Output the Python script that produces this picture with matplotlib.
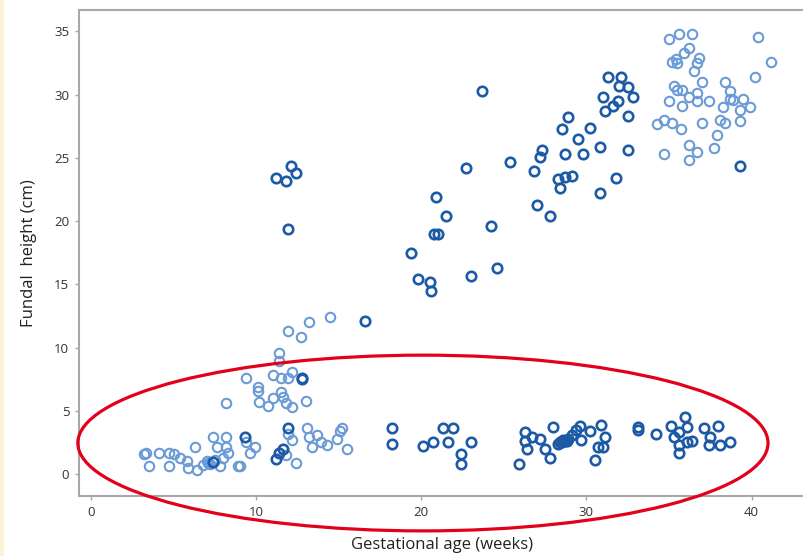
import matplotlib
matplotlib.use("Agg")
import matplotlib.pyplot as plt
from matplotlib.patches import Ellipse, Rectangle

# ---- data (gestational age in weeks, fundal height in cm) ----
dark_x = [11.2, 11.8, 12.1, 12.4, 11.9,
          23.7, 31.3, 32.1, 32.0, 32.5, 31.0, 32.8, 31.9, 31.6, 31.1, 32.5, 28.9, 28.5, 30.2, 29.5,
          27.3, 27.2, 28.7, 29.8, 30.8, 32.5, 25.4, 22.7, 26.8, 28.3, 28.7, 29.1, 28.4, 31.8, 30.8,
          27.0, 27.8, 20.9, 21.5, 20.8, 21.0, 24.2, 19.4, 19.8, 20.5, 20.6, 23.0, 24.6, 39.3, 16.6,
          18.2, 18.2, 20.1, 20.7, 21.3, 21.9, 21.6, 23.0, 22.4, 22.4, 26.3, 26.3, 26.7, 27.2, 26.4,
          27.5, 27.8, 25.9, 28.0, 28.5, 28.7, 28.9, 29.1, 29.4, 29.6, 29.7, 30.2, 30.5, 30.7, 30.9,
          31.1, 28.3, 28.6, 28.4, 28.8, 31.0,
          33.1, 33.1, 34.2, 35.1, 35.3, 35.6, 36.0, 36.1, 35.6, 35.6, 36.1, 36.4, 37.1, 37.5, 37.4,
          38.0, 38.1, 38.7,
          11.9, 11.6, 11.4, 11.2, 12.8, 12.8, 7.4, 9.3]
dark_y = [23.4, 23.2, 24.4, 23.8, 19.4,
          30.3, 31.4, 31.4, 30.7, 30.6, 29.8, 29.8, 29.5, 29.1, 28.7, 28.3, 28.2, 27.3, 27.4, 26.5,
          25.6, 25.1, 25.3, 25.3, 25.9, 25.6, 24.7, 24.2, 24.0, 23.3, 23.5, 23.6, 22.6, 23.4, 22.2,
          21.3, 20.4, 21.9, 20.4, 19.0, 19.0, 19.6, 17.5, 15.4, 15.2, 14.5, 15.7, 16.3, 24.4, 12.1,
          3.6, 2.4, 2.2, 2.5, 3.6, 3.6, 2.5, 2.5, 1.6, 0.8, 3.3, 2.6, 2.9, 2.8, 2.0,
          2.0, 1.3, 0.8, 3.7, 2.5, 2.6, 2.8, 3.1, 3.5, 3.8, 2.7, 3.4, 1.1, 2.1, 3.9,
          2.9, 2.4, 2.7, 2.5, 2.6, 2.1,
          3.7, 3.5, 3.2, 3.8, 2.9, 3.3, 4.5, 3.7, 2.3, 1.7, 2.5, 2.6, 3.6, 2.9, 2.3,
          3.8, 2.3, 2.5,
          3.6, 2.0, 1.7, 1.2, 7.6, 7.5, 0.95, 2.9]

light_x = [14.5, 13.2, 11.9, 12.7, 11.4, 11.4, 9.4, 11.0, 11.5, 11.9, 12.2, 10.1, 10.1, 10.2,
           10.7, 11.0, 11.5, 11.6, 11.8, 12.2, 13.0, 8.2,
           9.4, 9.9, 9.6, 11.9, 12.2, 11.8, 12.4, 13.1, 13.2, 13.4, 13.7, 13.9, 14.3, 14.9, 15.1,
           15.2, 15.5, 9.0,
           3.3, 3.2, 3.5, 4.1, 4.7, 5.0, 4.7, 5.4, 5.8, 5.9, 6.3, 6.4, 6.8, 7.1, 7.4, 7.5, 7.6,
           7.8, 8.2, 8.2, 8.3, 8.0, 8.9, 7.2, 7.0,
           35.0, 35.6, 36.4, 40.4, 41.2, 40.2, 36.2, 35.9, 35.4, 35.5, 35.2, 36.8, 36.7, 36.5,
           37.0, 35.3, 35.5, 35.8, 35.0, 35.8, 36.2, 36.7, 36.7, 37.4, 38.4, 38.7, 38.7, 38.9,
           39.5, 38.3, 39.3, 39.9, 34.3, 34.7, 35.2, 35.7, 37.0, 38.1, 38.4, 39.3, 37.9, 37.7,
           36.2, 36.7, 36.2, 34.7]
light_y = [12.4, 12.0, 11.3, 10.8, 9.6, 8.9, 7.6, 7.8, 7.6, 7.6, 8.1, 6.9, 6.6, 5.7,
           5.4, 6.0, 6.5, 6.1, 5.6, 5.3, 5.8, 5.6,
           2.5, 2.1, 1.7, 3.2, 2.7, 1.5, 0.9, 3.6, 2.9, 2.1, 3.1, 2.5, 2.3, 2.8, 3.4,
           3.6, 2.0, 0.6,
           1.7, 1.6, 0.6, 1.7, 1.7, 1.6, 0.6, 1.3, 1.0, 0.5, 2.1, 0.3, 0.7, 0.9, 2.9, 1.1, 2.1,
           0.6, 2.9, 2.1, 1.7, 1.3, 0.6, 0.8, 1.0,
           34.4, 34.8, 34.8, 34.6, 32.6, 31.4, 33.7, 33.3, 32.8, 32.5, 32.6, 32.9, 32.5, 31.9,
           31.0, 30.7, 30.4, 30.4, 29.5, 29.1, 29.8, 30.1, 29.5, 29.5, 31.0, 30.3, 29.7, 29.6,
           29.7, 29.0, 28.8, 29.0, 27.7, 28.0, 27.8, 27.3, 27.8, 28.0, 27.8, 27.9, 26.8, 25.8,
           26.0, 25.5, 24.8, 25.3]

x_ticks = [0, 10, 20, 30, 40]
y_ticks = [0, 5, 10, 15, 20, 25, 30, 35]

W, H = 804, 556
fig = plt.figure(figsize=(W / 100, H / 100), dpi=100)
fig.patch.set_facecolor("white")
fig.patches.append(Rectangle((0, 0), 4 / W, 1, transform=fig.transFigure,
                             facecolor="#fbf3d6", edgecolor="none", zorder=0))

left, right, top, bottom = 79, 806, 10, 496
ax = fig.add_axes([left / W, 1 - bottom / H, (right - left) / W, (bottom - top) / H])
ax.set_xlim(-0.73, 43.3)
ax.set_ylim(-1.74, 36.7)

ax.plot(light_x, light_y, linestyle="none", marker="o", ms=6.8, mew=1.5,
        mfc="none", mec="#6a9bd6", zorder=3)
ax.plot(dark_x, dark_y, linestyle="none", marker="o", ms=6.8, mew=1.9,
        mfc="none", mec="#1d5aa6", zorder=4)

ell = Ellipse((20.1, 2.45), 41.8, 13.9, fill=False, edgecolor="#e2001a",
              linewidth=2.3, clip_on=False, zorder=5)
ax.add_patch(ell)

for s in ax.spines.values():
    s.set_color("#a8a8a8")
    s.set_linewidth(1.5)

ax.set_xticks(x_ticks)
ax.set_yticks(y_ticks)
ax.tick_params(axis="both", colors="#a8a8a8", length=3, width=1, labelcolor="#333333",
               labelsize=9.5)
for lab in ax.get_xticklabels() + ax.get_yticklabels():
    lab.set_family("Open Sans")
ax.tick_params(axis="y", pad=4)
ax.tick_params(axis="x", pad=4)

ax.set_xlabel("Gestational age (weeks)", fontsize=12, family="Open Sans",
              color="#222222", labelpad=13)
ax.set_ylabel("Fundal  height (cm)", fontsize=12, family="Open Sans",
              color="#222222", labelpad=12)

fig.savefig("out.png", dpi=100)
